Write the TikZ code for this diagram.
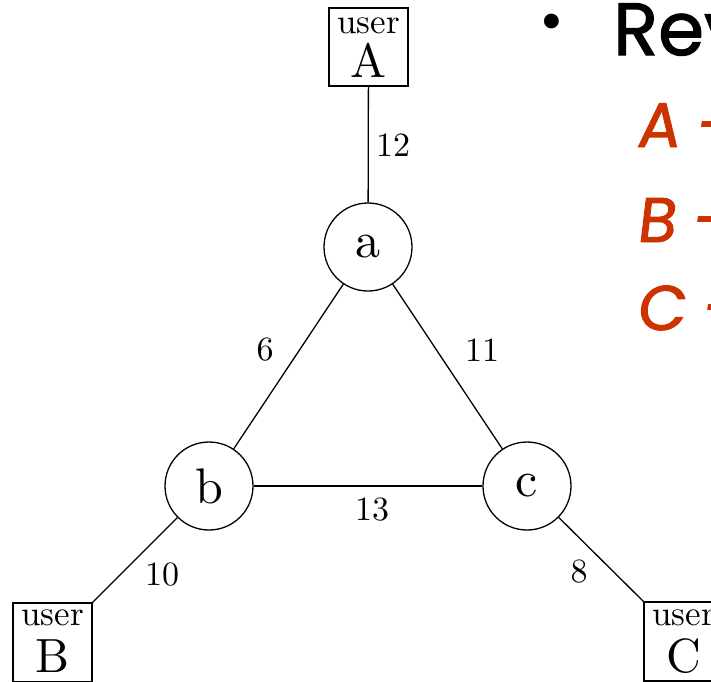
\documentclass[tikz,border=0pt]{standalone}
\usepackage{fontspec}
\newfontfamily\cmten{lmroman10-regular.otf}
\newfontfamily\comic{Poppins}
\newfontfamily\comicbd[FakeBold=1.5]{Poppins}
\newfontfamily\comicsl[FakeSlant=0.12,FakeBold=1.5]{Poppins}
\definecolor{accent}{HTML}{CC3300}
\begin{document}
\begin{tikzpicture}[x=1pt,y=-1pt,
  router/.style={circle,draw,line width=1.3pt,minimum size=88pt,inner sep=0pt,font=\cmten\fontsize{50}{50}\selectfont},
  userbox/.style={rectangle,draw,line width=1.3pt,minimum width=79pt,minimum height=79pt,inner sep=0pt},
  usertxt/.style={anchor=base,inner sep=0pt,font=\cmten\fontsize{35}{35}\selectfont},
  userlet/.style={anchor=base,inner sep=0pt,font=\cmten\fontsize{48}{48}\selectfont},
  cost/.style={inner sep=0pt,font=\cmten\fontsize{34}{34}\selectfont},
  link/.style={line width=1.3pt},
  accenttxt/.style={anchor=base west,inner sep=0pt,text=accent,font=\comicsl\fontsize{63}{63}\selectfont}]
\useasboundingbox (0,0) rectangle (711,681);
\clip (0,0) rectangle (711,681);
\fill[white] (0,0) rectangle (711,681);
% boxes
\node[userbox,minimum height=78pt] (boxA) at (368.5,47) {};
\node[userbox] (boxB) at (52.5,642.5) {};
\node[userbox] (boxC) at (683.5,641.5) {};
\node[usertxt] (uA) at (368.5,33) {user};
\node[userlet] (lA) at (368.5,77) {A};
\node[usertxt] (uB) at (52.5,625) {user};
\node[userlet] (lB) at (52.5,672) {B};
\node[usertxt] (uC) at (683.5,625) {user};
\node[userlet] (lC) at (683.5,672) {C};
% routers
\node[router] (a) at (368,247) {a};
\node[router] (b) at (209,486) {b};
\node[router] (c) at (527,486) {c};
% links
\draw[link] (boxA) -- (a);
\draw[link] (a) -- (b);
\draw[link] (a) -- (c);
\draw[link] (b) -- (c);
\draw[link] (boxB.north east) -- (b);
\draw[link] (c) -- (boxC.north west);
% costs
\node[cost] (k12) at (393,145) {12};
\node[cost] (k6) at (265,350) {6};
\node[cost] (k11) at (482,350) {11};
\node[cost] (k13) at (372,510) {13};
\node[cost] (k10) at (162,575) {10};
\node[cost] (k8) at (579,572) {8};
% right-hand text
\node[inner sep=0pt,font=\comic\fontsize{60}{60}\selectfont] (bul) at (552,28) {•};
\node[anchor=base west,inner sep=0pt,font=\comicbd\fontsize{74}{74}\selectfont] (rev) at (613,55) {Rev};
\node[accenttxt] (tA) at (636,147) {A -};
\node[accenttxt] (tB) at (636,242) {B -};
\node[accenttxt] (tC) at (636,330) {C -};
\end{tikzpicture}
\end{document}
